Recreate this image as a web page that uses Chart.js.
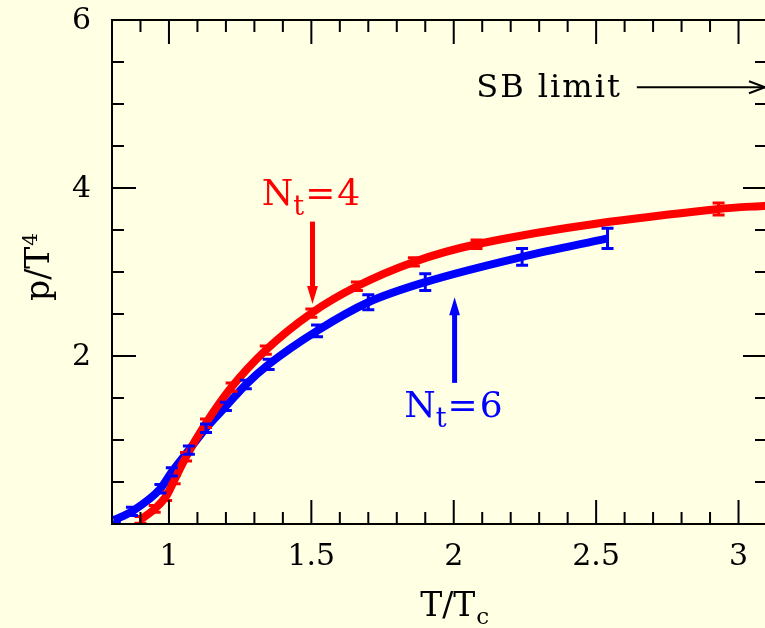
<!DOCTYPE html>
<html><head><meta charset="utf-8">
<script src="https://cdn.jsdelivr.net/npm/chart.js@4/dist/chart.umd.min.js"></script>
<style>
html,body{margin:0;padding:0;background:#ffffe4;overflow:hidden;width:765px;height:628px;}
#wrap{position:absolute;left:0;top:0;width:770px;height:628px;}
</style></head>
<body>
<div id="wrap"><canvas id="c" width="770" height="628"></canvas></div>
<script>
// ---- data ----
const nt4T   = [0.90, 0.95, 0.99, 1.02, 1.06, 1.13, 1.22, 1.34, 1.50, 1.66, 1.86, 2.08, 2.93, 3.10];
const nt4P   = [0.05, 0.18, 0.33, 0.53, 0.80, 1.20, 1.63, 2.07, 2.51, 2.83, 3.12, 3.33, 3.75, 3.79];
const nt4Err = [0.04, 0.04, 0.05, 0.05, 0.05, 0.05, 0.05, 0.05, 0.05, 0.05, 0.05, 0.05, 0.07, 0];
const nt6T   = [0.81, 0.87, 0.97, 1.01, 1.07, 1.13, 1.20, 1.27, 1.35, 1.52, 1.70, 1.90, 2.24, 2.54];
const nt6P   = [0.05, 0.15, 0.42, 0.62, 0.88, 1.14, 1.40, 1.66, 1.90, 2.30, 2.64, 2.88, 3.18, 3.40];
const nt6Err = [0.03, 0.05, 0.05, 0.05, 0.05, 0.05, 0.05, 0.05, 0.06, 0.07, 0.09, 0.10, 0.10, 0.12];
const xMajorTicks = [1, 1.5, 2, 2.5, 3];
const xTickLabels = ['1', '1.5', '2', '2.5', '3'];
const xMinorTicks = [0.9,1.1,1.2,1.3,1.4,1.6,1.7,1.8,1.9,2.1,2.2,2.3,2.4,2.6,2.7,2.8,2.9,3.1];
const yMajorTicks = [2, 4, 6];
const yTickLabels = ['2', '4', '6'];
const yMinorTicks = [0.5,1,1.5,2.5,3,3.5,4.5,5,5.5];
const xTitle = 'T/T';
const yTitle = 'p/T';

const FONT = '"DejaVu Serif", "Liberation Serif", serif';

function toPts(xs, ys){ return xs.map((x,i)=>({x:x, y:ys[i]})); }

const errorBars = {
  id:'errorBars',
  afterDatasetsDraw(chart){
    const {ctx, scales:{x,y}} = chart;
    const sets = [[nt4T,nt4P,nt4Err,'#ff0000'],[nt6T,nt6P,nt6Err,'#0000ff']];
    ctx.save();
    ctx.beginPath();
    ctx.rect(chart.chartArea.left, chart.chartArea.top, chart.chartArea.width, chart.chartArea.height);
    ctx.clip();
    sets.forEach(([xs,ys,es,col])=>{
      ctx.strokeStyle = col; ctx.lineWidth = 3;
      xs.forEach((xv,i)=>{
        if(!es[i]) return;
        const px = x.getPixelForValue(xv);
        const p1 = y.getPixelForValue(ys[i]-es[i]);
        const p2 = y.getPixelForValue(ys[i]+es[i]);
        ctx.beginPath();
        ctx.moveTo(px,p1); ctx.lineTo(px,p2);
        ctx.moveTo(px-6,p1); ctx.lineTo(px+6,p1);
        ctx.moveTo(px-6,p2); ctx.lineTo(px+6,p2);
        ctx.stroke();
      });
    });
    ctx.restore();
  }
};

function drawArrowV(ctx, px, y1, y2, col, w, head){
  const dir = y2 > y1 ? 1 : -1;
  ctx.save();
  ctx.strokeStyle = col; ctx.fillStyle = col; ctx.lineWidth = w;
  ctx.beginPath(); ctx.moveTo(px, y1); ctx.lineTo(px, y2 - dir*head*1.6); ctx.stroke();
  ctx.beginPath();
  ctx.moveTo(px, y2);
  ctx.lineTo(px - head*0.6, y2 - dir*head*2);
  ctx.lineTo(px + head*0.6, y2 - dir*head*2);
  ctx.closePath(); ctx.fill();
  ctx.restore();
}

function drawNt(ctx, txtLeft, baseline, val, col){
  ctx.save();
  ctx.fillStyle = col;
  ctx.textBaseline = 'alphabetic'; ctx.textAlign = 'left';
  ctx.font = '36px ' + FONT;
  ctx.fillText('N', txtLeft, baseline);
  let w = ctx.measureText('N').width;
  ctx.font = '27px ' + FONT;
  ctx.fillText('t', txtLeft + w, baseline + 10);
  let w2 = ctx.measureText('t').width;
  ctx.font = '36px ' + FONT;
  ctx.fillText('=', txtLeft + w + w2 + 1, baseline);
  let w3 = ctx.measureText('=').width;
  ctx.fillText(val, txtLeft + w + w2 + w3 + 3, baseline);
  ctx.restore();
}

const frame = {
  id:'frame',
  afterDraw(chart){
    const {ctx, scales:{x,y}} = chart;
    const L = x.getPixelForValue(0.8), R = x.getPixelForValue(3.1);
    const T = y.getPixelForValue(6), B = y.getPixelForValue(0);
    ctx.save();
    ctx.strokeStyle = '#000'; ctx.lineWidth = 2;
    ctx.strokeRect(L, T, R-L, B-T);
    ctx.beginPath();
    xMajorTicks.forEach(v=>{const p=x.getPixelForValue(v); ctx.moveTo(p,B); ctx.lineTo(p,B-24); ctx.moveTo(p,T); ctx.lineTo(p,T+24);});
    xMinorTicks.forEach(v=>{const p=x.getPixelForValue(v); ctx.moveTo(p,B); ctx.lineTo(p,B-12); ctx.moveTo(p,T); ctx.lineTo(p,T+12);});
    yMajorTicks.forEach(v=>{const p=y.getPixelForValue(v); ctx.moveTo(L,p); ctx.lineTo(L+24,p); ctx.moveTo(R,p); ctx.lineTo(R-24,p);});
    yMinorTicks.forEach(v=>{const p=y.getPixelForValue(v); ctx.moveTo(L,p); ctx.lineTo(L+12,p); ctx.moveTo(R,p); ctx.lineTo(R-12,p);});
    ctx.stroke();
    // tick labels
    ctx.fillStyle = '#000';
    ctx.font = '30px ' + FONT;
    ctx.textAlign = 'center'; ctx.textBaseline = 'middle';
    xMajorTicks.forEach((v,i)=>ctx.fillText(xTickLabels[i], x.getPixelForValue(v), B+33));
    ctx.textAlign = 'right';
    yMajorTicks.forEach((v,i)=>ctx.fillText(yTickLabels[i], L-21, y.getPixelForValue(v)+1));
    // x title
    ctx.font = '33px ' + FONT;
    ctx.textAlign = 'left'; ctx.textBaseline = 'alphabetic';
    const wt = ctx.measureText(xTitle).width;
    const cx = x.getPixelForValue(2.0);
    ctx.fillText(xTitle, cx - wt/2 - 6, 616);
    ctx.font = '23px ' + FONT;
    ctx.fillText('c', cx + wt/2 - 5, 624);
    // y title
    ctx.save();
    ctx.translate(49, y.getPixelForValue(3.05));
    ctx.rotate(-Math.PI/2);
    ctx.font = '33px ' + FONT;
    ctx.textAlign = 'left';
    const wy = ctx.measureText(yTitle).width;
    ctx.fillText(yTitle, -wy/2 - 6, 0);
    ctx.font = '20px ' + FONT;
    ctx.fillText('4', wy/2 - 5, -12);
    ctx.restore();
    // SB limit
    ctx.font = '32px ' + FONT;
    ctx.letterSpacing = '2px';
    ctx.textAlign = 'right'; ctx.textBaseline = 'middle';
    const sy = y.getPixelForValue(5.2);
    ctx.fillText('SB limit', x.getPixelForValue(2.59), sy + 1);
    ctx.letterSpacing = '0px';
    ctx.lineWidth = 2;
    const ax1 = x.getPixelForValue(2.643), ax2 = x.getPixelForValue(3.1);
    ctx.beginPath(); ctx.moveTo(ax1, sy); ctx.lineTo(ax2-2, sy); ctx.stroke();
    ctx.beginPath(); ctx.moveTo(ax2-18, sy-6); ctx.lineTo(ax2-2, sy); ctx.lineTo(ax2-18, sy+6); ctx.stroke();
    // N_t labels and arrows
    drawNt(ctx, x.getPixelForValue(1.326), y.getPixelForValue(3.80), '4', '#ff0000');
    drawArrowV(ctx, x.getPixelForValue(1.504), y.getPixelForValue(3.60), y.getPixelForValue(2.62), '#ff0000', 5, 9);
    drawNt(ctx, x.getPixelForValue(1.826), y.getPixelForValue(1.27), '6', '#0000ff');
    drawArrowV(ctx, x.getPixelForValue(2.003), y.getPixelForValue(1.68), y.getPixelForValue(2.70), '#0000ff', 5, 9);
    ctx.restore();
  }
};

new Chart(document.getElementById('c'), {
  type:'scatter',
  data:{datasets:[
    {label:'Nt=4', data:toPts(nt4T,nt4P), showLine:true, borderColor:'#ff0000', borderWidth:8, pointRadius:0, cubicInterpolationMode:'monotone', borderCapStyle:'butt'},
    {label:'Nt=6', data:toPts(nt6T,nt6P), showLine:true, borderColor:'#0000ff', borderWidth:8, pointRadius:0, cubicInterpolationMode:'monotone', borderCapStyle:'butt'}
  ]},
  options:{
    responsive:false, animation:false,
    layout:{padding:{left:112, right:3, top:20, bottom:104}},
    plugins:{legend:{display:false}, tooltip:{enabled:false}},
    scales:{
      x:{type:'linear', min:0.8, max:3.1, display:false},
      y:{type:'linear', min:0, max:6, display:false}
    }
  },
  plugins:[errorBars, frame]
});
</script>
</body></html>
